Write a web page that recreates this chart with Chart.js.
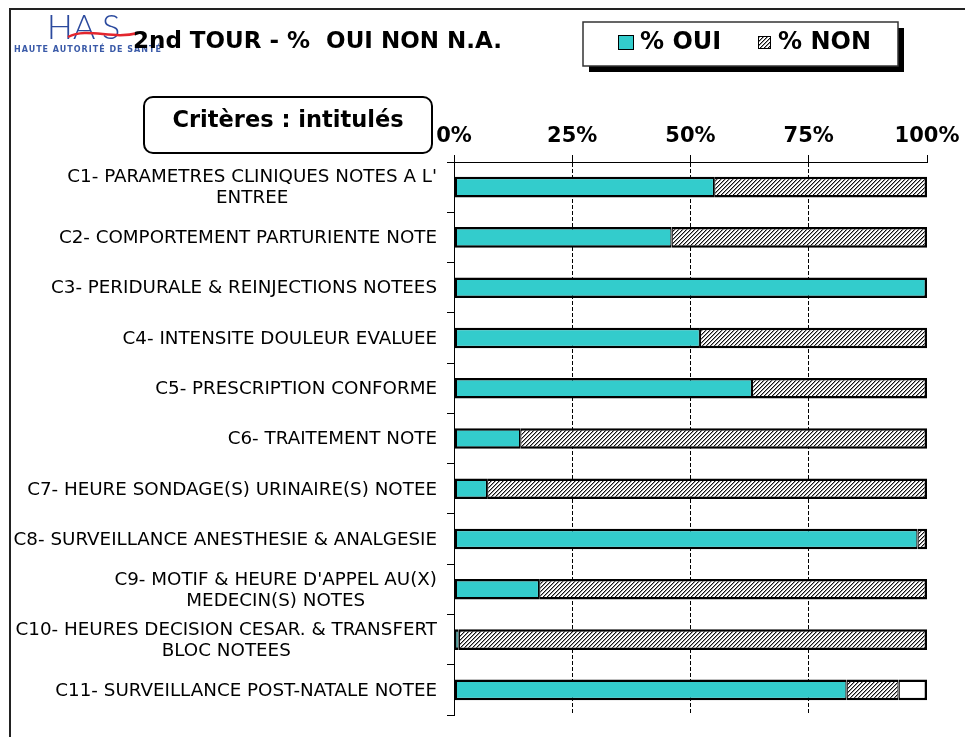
<!DOCTYPE html>
<html><head><meta charset="utf-8">
<script src="https://cdn.jsdelivr.net/npm/chart.js@4"></script>
<style>html,body{margin:0;padding:0;background:#fff}canvas{display:block}</style>
</head><body>
<canvas id="c" width="965" height="737"></canvas>
<script>
const categories = [
  ["C1- PARAMETRES CLINIQUES NOTES A L'", "ENTREE"],
  ["C2- COMPORTEMENT PARTURIENTE NOTE"],
  ["C3- PERIDURALE & REINJECTIONS NOTEES"],
  ["C4- INTENSITE DOULEUR EVALUEE"],
  ["C5- PRESCRIPTION CONFORME"],
  ["C6- TRAITEMENT NOTE"],
  ["C7- HEURE SONDAGE(S) URINAIRE(S) NOTEE"],
  ["C8- SURVEILLANCE ANESTHESIE & ANALGESIE"],
  ["C9- MOTIF & HEURE D'APPEL AU(X)", "MEDECIN(S) NOTES"],
  ["C10- HEURES DECISION CESAR. & TRANSFERT", "BLOC NOTEES"],
  ["C11- SURVEILLANCE POST-NATALE NOTEE"]
];
const ouiValues = [55, 46, 100, 52, 63, 14, 7, 98, 18, 1, 83];
const nonValues = [45, 54, 0, 48, 37, 86, 93, 2, 82, 99, 11];
const naValues  = [0, 0, 0, 0, 0, 0, 0, 0, 0, 0, 6];
const seriesNames = ["% OUI", "% NON", "% N.A."];
const tickValues = [0, 25, 50, 75, 100];
const titleText = "2nd TOUR - %  OUI NON N.A.";
const boxText = "Critères : intitulés";
const logoText = "HAS";
const logoSub = "HAUTE AUTORITÉ DE SANTÉ";

const TEAL = '#33CCCC';
function makeHatch() {
  const s = 4;
  const c = document.createElement('canvas');
  c.width = s; c.height = s;
  const x = c.getContext('2d');
  x.fillStyle = '#fff'; x.fillRect(0, 0, s, s);
  for (let i = 0; i < s; i++) {
    x.fillStyle = '#111';
    x.fillRect(i, s - 1 - i, 1, 1);
    x.fillStyle = '#9a9a9a';
    x.fillRect(i, (s - i) % s, 1, 1);
  }
  return x.createPattern(c, 'repeat');
}
const HATCH = makeHatch();
const allSeries = [ouiValues, nonValues, naValues];

function segBorder(ctx) {
  const i = ctx.dataIndex, d = ctx.datasetIndex;
  let first = -1, last = -1;
  allSeries.forEach((s, k) => { if (s[i] > 0) { if (first < 0) first = k; last = k; } });
  return { top: 2.5, bottom: 2.5, left: d === first ? 2.5 : 1.25, right: d === last ? 2.5 : 1.25 };
}

const decor = {
  id: 'decor',
  afterDraw(chart) {
    const ctx = chart.ctx;
    const ys = chart.scales.y;
    ctx.save();
    // outer frame
    ctx.strokeStyle = '#222'; ctx.lineWidth = 2;
    ctx.beginPath(); ctx.moveTo(10, 737); ctx.lineTo(10, 9); ctx.lineTo(965, 9); ctx.stroke();

    // logo
    ctx.fillStyle = '#2B4A9E';
    ctx.font = '300 34px Lato';
    ctx.textBaseline = 'alphabetic'; ctx.textAlign = 'left';
    const lx = [47, 73, 102];
    logoText.split('').forEach((ch, k) => ctx.fillText(ch, lx[k], 39));
    ctx.strokeStyle = '#E3262E'; ctx.lineWidth = 2.5;
    ctx.beginPath(); ctx.moveTo(68, 37); ctx.bezierCurveTo(88, 27, 112, 40, 138, 33); ctx.stroke();
    ctx.fillStyle = '#3A5AA8';
    ctx.font = 'bold 8px "DejaVu Sans"';
    ctx.letterSpacing = '1px';
    ctx.fillText(logoSub, 14, 52);
    ctx.letterSpacing = '0px';

    // title
    ctx.fillStyle = '#000';
    ctx.font = 'bold 23px "DejaVu Sans"';
    ctx.textBaseline = 'middle';
    ctx.fillText(titleText, 133, 42);

    // legend box with shadow
    ctx.fillStyle = '#000';
    ctx.fillRect(589, 28, 315, 44);
    ctx.fillStyle = '#fff';
    ctx.fillRect(583, 22, 315, 44);
    ctx.strokeStyle = '#333'; ctx.lineWidth = 1.5;
    ctx.strokeRect(583, 22, 315, 44);
    ctx.fillStyle = TEAL; ctx.fillRect(618, 35, 15, 14);
    ctx.strokeStyle = '#000'; ctx.lineWidth = 1; ctx.strokeRect(618.5, 35.5, 15, 14);
    ctx.fillStyle = HATCH; ctx.fillRect(758, 36, 12, 12);
    ctx.strokeRect(758.5, 36.5, 12, 12);
    ctx.fillStyle = '#000';
    ctx.font = 'bold 24px "DejaVu Sans"';
    ctx.textBaseline = 'middle';
    ctx.fillText(seriesNames[0], 640, 43);
    ctx.fillText(seriesNames[1], 778, 43);

    // criteria box
    ctx.fillStyle = '#fff'; ctx.strokeStyle = '#000'; ctx.lineWidth = 2;
    ctx.beginPath(); ctx.roundRect(144, 97, 288, 56, 9); ctx.fill(); ctx.stroke();
    ctx.fillStyle = '#000';
    ctx.font = 'bold 22.5px "DejaVu Sans"';
    ctx.textAlign = 'center';
    ctx.fillText(boxText, 288, 121);

    // category labels
    ctx.font = '18.3px "DejaVu Sans"';
    ctx.textAlign = 'center';
    ctx.textBaseline = 'middle';
    const rightEdge = ys.right - 17;
    const lh = 21;
    categories.forEach((lines, i) => {
      const yc = ys.getPixelForValue(i) + 1;
      const w = Math.max(...lines.map(l => ctx.measureText(l).width));
      const cx = rightEdge - w / 2;
      lines.forEach((l, j) => ctx.fillText(l, cx, yc + (j - (lines.length - 1) / 2) * lh));
    });
    ctx.restore();
  }
};

const commonDs = { borderColor: '#000', borderWidth: segBorder, borderSkipped: false, barPercentage: 0.41, categoryPercentage: 1 };

new Chart(document.getElementById('c'), {
  type: 'bar',
  data: {
    labels: categories.map(c => c.join(' ')),
    datasets: [
      Object.assign({ label: seriesNames[0], data: ouiValues, backgroundColor: TEAL }, commonDs),
      Object.assign({ label: seriesNames[1], data: nonValues, backgroundColor: HATCH }, commonDs),
      Object.assign({ label: seriesNames[2], data: naValues, backgroundColor: '#fff' }, commonDs)
    ]
  },
  options: {
    indexAxis: 'y',
    responsive: false,
    animation: false,
    layout: { padding: { left: 0, right: 38, top: 108, bottom: 22 } },
    plugins: { legend: { display: false }, tooltip: { enabled: false } },
    scales: {
      x: {
        position: 'top', stacked: true, min: 0, max: 100,
        afterBuildTicks: s => { s.ticks = tickValues.map(v => ({ value: v })); },
        ticks: { callback: v => v + '%', font: { family: 'DejaVu Sans', weight: 'bold', size: 21 }, color: '#000', padding: 6, maxRotation: 0, autoSkip: false },
        grid: {
          color: c => (c.tick && (c.tick.value === 0 || c.tick.value === 100)) ? 'rgba(0,0,0,0)' : '#000',
          tickColor: '#000', tickLength: 7, lineWidth: 1
        },
        border: { display: true, color: '#000', width: 1, dash: [4, 2] },
        afterFit: s => { s.height = 54; s.paddingLeft = 0; s.paddingRight = 0; }
      },
      y: {
        stacked: true, offset: true,
        ticks: { display: false },
        grid: { offset: true, drawOnChartArea: false, drawTicks: true, tickLength: 7, color: '#000', tickColor: '#000' },
        border: { display: true, color: '#000', width: 1 },
        afterFit: s => { s.width = 454; }
      }
    }
  },
  plugins: [decor]
});
</script>
</body></html>
